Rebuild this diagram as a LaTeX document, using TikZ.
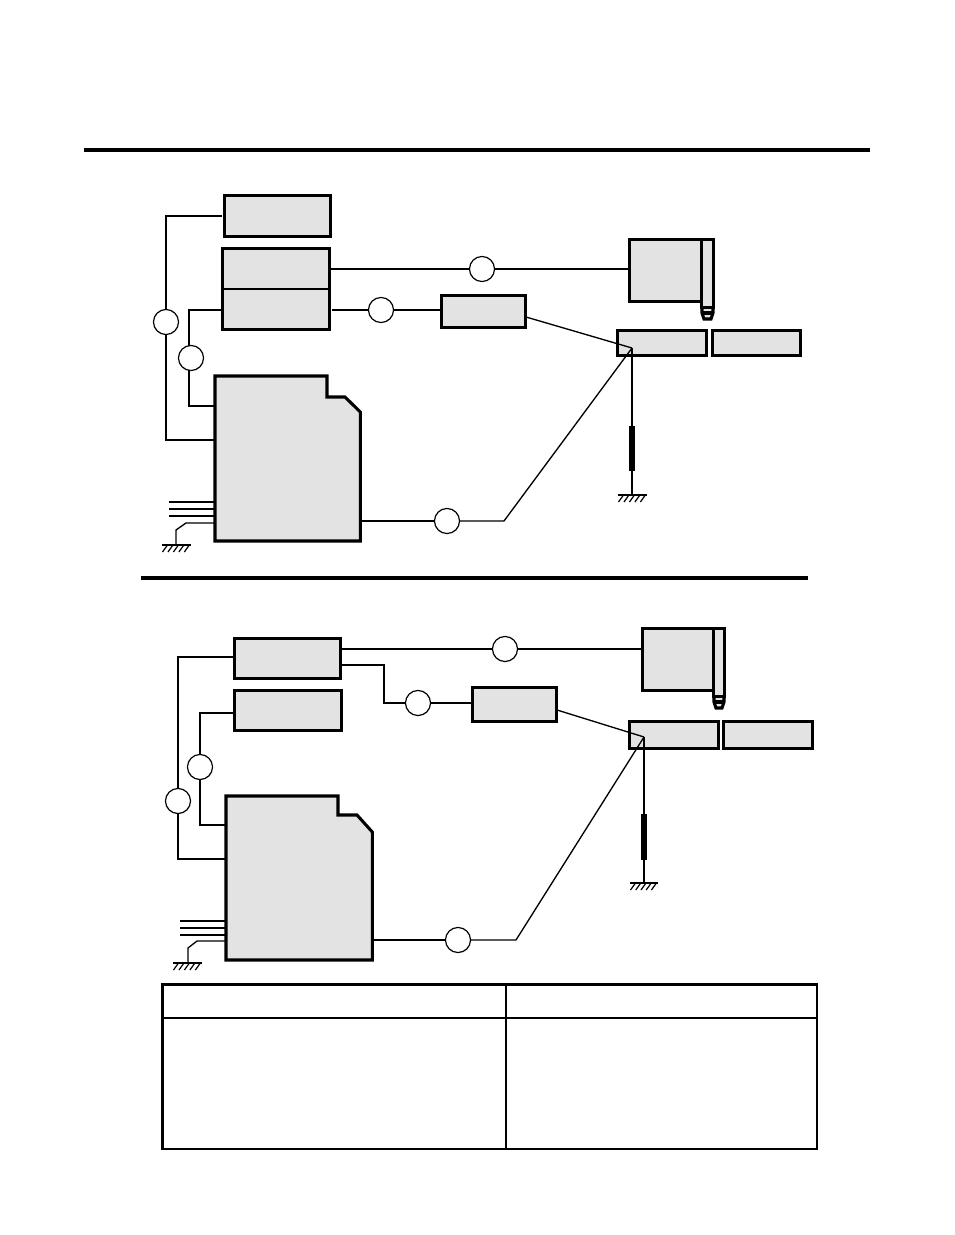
\documentclass[tikz,border=0pt]{standalone}
\newcommand{\bx}[5]{\node[blk,minimum width={(#4-#2-1.4)*0.75pt},minimum height={(#5-#3-1.4)*0.75pt}] (#1) at ({(#2+#4)/2},{(#3+#5)/2}) {};}
\newcommand{\gnd}[3]{\draw[gndl] (#1,#3) -- (#2,#3);
 \foreach \k in {0,1,2,3,4} {\draw[thinl,line width=0.9pt] ({#1+5.5+\k*(#2-#1-5.5)/4.3},#3) -- ++(-5,7);}}
\newcommand{\tip}[3]{% x1 x2 ytop
 \draw[blkl,fill=fillg] (#1,#3) -- (#2,#3) -- (#2,#3+6) -- ({#2-2},#3+12) -- ({#1+2},#3+12) -- (#1,#3+6) -- cycle;
 \draw[blkl] (#1,#3+6) -- (#2,#3+6);}
\definecolor{fillg}{gray}{0.89}
\tikzset{
 x=0.75pt,y=-0.75pt,
 blk/.style={draw=black,fill=fillg,line width=2.2pt,inner sep=0pt,outer sep=0pt,rectangle},
 resb/.style={draw=black,fill=fillg,line width=2.2pt,inner sep=0pt,outer sep=0pt,rectangle,minimum width=2.4pt},
 blkl/.style={draw=black,line width=2.3pt,line join=miter},
 thinl/.style={draw=black,line width=1pt},
 thickl/.style={draw=black,line width=1.5pt},
 gndl/.style={draw=black,line width=1.2pt},
 cir/.style={circle,draw=black,fill=white,line width=0.9pt,minimum size=18.8pt,inner sep=0pt,outer sep=0pt},
 rule/.style={draw=black,line width=3pt},
 tbl/.style={draw=black,line width=2pt},
}
\begin{document}
\begin{tikzpicture}
\useasboundingbox (0,0) rectangle (954,1235);
\draw[rule] (84,150) -- (870,150);
\draw[rule] (141,578) -- (808,578);
%% ===== top diagram =====
\bx{ta}{224}{195}{331}{237}
\bx{tb}{222}{248}{330}{330}
\draw[blkl,line width=1.6pt] (222,289) -- (330,289);
\bx{tc}{441}{295}{526}{328}
\bx{tm}{629}{239}{703}{302}
\tip{702}{713}{307}
\bx{tn}{701}{239}{714}{308}
\bx{tr}{617}{330}{707}{356}
\bx{ts}{712}{330}{801}{356}
\node[resb,minimum height=32pt] (tres) at (632,448.5) {};
\draw[blkl,fill=fillg] (215,376) -- (327,376) -- (327,397) -- (345,397) -- (360.3,412) -- (360.3,541) -- (215,541) -- cycle;
\coordinate (tj) at (632,348);
\coordinate (tg) at (632,495);
\node[cir] (c1) at (166,322) {};
\node[cir] (c2) at (191,358) {};
\node[cir] (c3) at (381,310) {};
\node[cir] (c4) at (482,269) {};
\node[cir] (c5) at (447,521) {};
\draw[thickl] (222,216) -- (166,216) -- (c1.north);
\draw[thickl] (c1.south) -- (166,440) -- (214,440);
\draw[thinl] (222,310) -- (189,310) -- (189,346);
\draw[thinl] (189,370) -- (189,406) -- (214,406);
\draw[thinl] (332,310) -- (c3.west);
\draw[thinl] (c3.east) -- (c3.east -| tc.west);
\draw[thickl] (330,269) -- (c4.west);
\draw[thickl] (c4.east) -- (c4.east -| tm.west);
\draw[thinl] (526,317) -- (tj);
\draw[thinl] (361,521) -- (c5.west);
\draw[thinl] (c5.east) -- (504,521) -- (tj);
\draw[thinl] (tj) -- (tres.north);
\draw[thinl] (tres.south) -- (tg);
\gnd{618}{647}{495}
\foreach \yy in {502,509,516} {\draw[thinl] (169,\yy) -- (214,\yy);}
\draw[thinl] (214,523) -- (186,523) -- (176,530) -- (176,545);
\gnd{162}{191}{545}
%% ===== bottom diagram =====
\bx{ba}{234}{638}{341}{679}
\bx{bb}{234}{690}{342}{731}
\bx{bc}{472}{687}{557}{722}
\bx{bm}{642}{628}{714}{691}
\tip{714}{724}{696}
\bx{bn}{713}{628}{725}{697}
\bx{br}{629}{721}{719}{749}
\bx{bs}{723}{721}{813}{749}
\node[resb,minimum height=32.5pt] (bres) at (644,837) {};
\draw[blkl,fill=fillg] (226,796) -- (338,796) -- (338,815) -- (357,815) -- (372.3,832) -- (372.3,960) -- (226,960) -- cycle;
\coordinate (bj) at (644,737);
\coordinate (bg) at (644,883);
\node[cir] (d1) at (178,801) {};
\node[cir] (d2) at (200,767) {};
\node[cir] (d3) at (418,703) {};
\node[cir] (d4) at (505,649) {};
\node[cir] (d5) at (458,940) {};
\draw[thinl] (234,657) -- (178,657) -- (d1.north);
\draw[thickl] (d1.south) -- (178,859) -- (225,859);
\draw[thinl] (234,713) -- (200,713) -- (d2.north);
\draw[thickl] (d2.south) -- (200,825) -- (225,825);
\draw[thickl] (341,649) -- (d4.west);
\draw[thickl] (d4.east) -- (d4.east -| bm.west);
\draw[thinl] (341,665) -- (384,665) -- (384,703) -- (d3.west);
\draw[thinl] (d3.east) -- (d3.east -| bc.west);
\draw[thinl] (557,710) -- (bj);
\draw[thinl] (373,940) -- (d5.west);
\draw[thinl] (d5.east) -- (516,940) -- (bj);
\draw[thinl] (bj) -- (bres.north);
\draw[thinl] (bres.south) -- (bg);
\gnd{630}{658}{883}
\foreach \yy in {921,928,935} {\draw[thinl] (180,\yy) -- (225,\yy);}
\draw[thinl] (225,941) -- (197,941) -- (188,948) -- (188,963);
\gnd{173}{202}{963}
%% ===== table =====
\draw[tbl] (162.5,984.5) rectangle (817,1149);
\draw[tbl] (162.5,1018) -- (817,1018);
\draw[tbl] (506,984.5) -- (506,1149);
\end{tikzpicture}
\end{document}
